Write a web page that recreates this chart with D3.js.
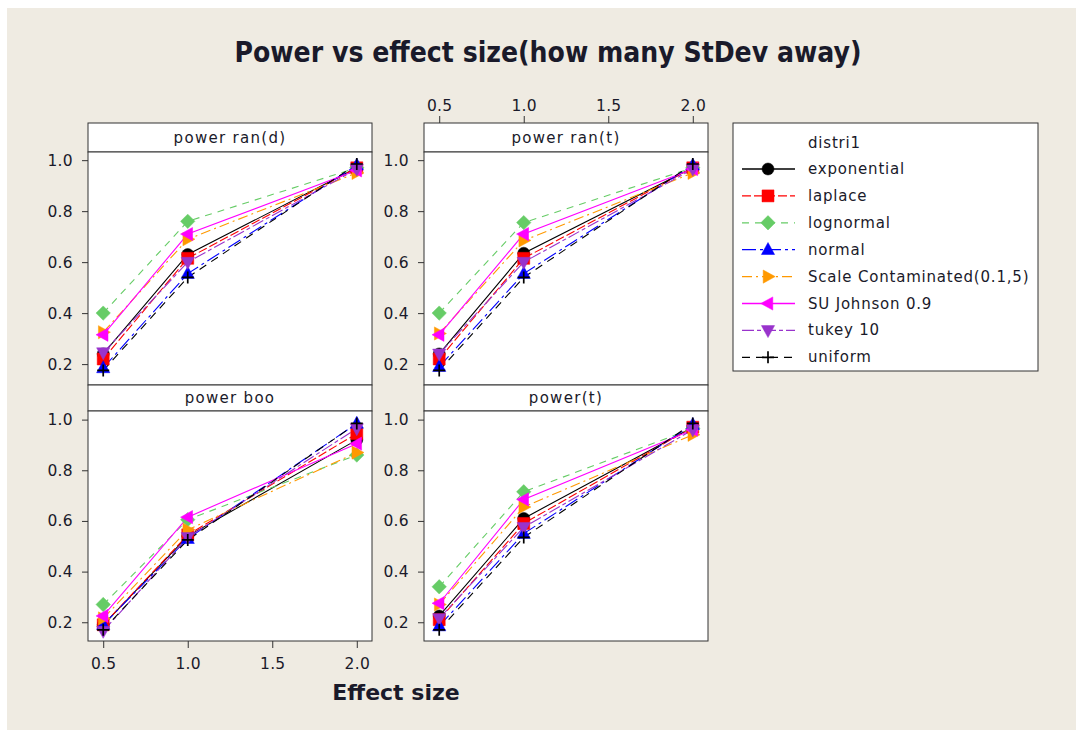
<!DOCTYPE html>
<html>
<head>
<meta charset="utf-8">
<script src="https://cdn.jsdelivr.net/npm/d3@7"></script>
<style>
  html, body { margin: 0; padding: 0; background: #fff; }
  text { font-family: "DejaVu Sans", sans-serif; fill: #1a1a2a; }
</style>
</head>
<body>
<svg id="chart" width="1083" height="736"></svg>
<script>
// effect sizes on the x axis
const effectSizes = [0.5, 1.0, 2.0];
const xTicks = [0.5, 1.0, 1.5, 2.0];
const yTicks = [0.2, 0.4, 0.6, 0.8, 1.0];

const seriesNames = ["exponential", "laplace", "lognormal", "normal",
  "Scale Contaminated(0.1,5)", "SU Johnson 0.9", "tukey 10", "uniform"];
const panelTitles = ["power ran(d)", "power ran(t)", "power boo", "power(t)"];

// one row per series (same order as seriesNames), values at 0.5, 1.0, 2.0
const powerRanD = [
  [0.24, 0.63, 0.97],
  [0.22, 0.615, 0.97],
  [0.40, 0.76, 0.97],
  [0.185, 0.555, 0.98],
  [0.325, 0.69, 0.95],
  [0.315, 0.71, 0.96],
  [0.245, 0.60, 0.965],
  [0.175, 0.54, 0.985]
];
const powerRanT = [
  [0.24, 0.635, 0.97],
  [0.22, 0.615, 0.97],
  [0.40, 0.755, 0.97],
  [0.19, 0.555, 0.98],
  [0.32, 0.685, 0.95],
  [0.315, 0.71, 0.965],
  [0.24, 0.60, 0.965],
  [0.175, 0.54, 0.985]
];
const powerBoo = [
  [0.19, 0.54, 0.92],
  [0.19, 0.545, 0.945],
  [0.27, 0.605, 0.86],
  [0.19, 0.53, 0.985],
  [0.215, 0.565, 0.87],
  [0.225, 0.615, 0.905],
  [0.165, 0.535, 0.965],
  [0.17, 0.525, 0.985]
];
const powerT = [
  [0.225, 0.61, 0.97],
  [0.21, 0.59, 0.97],
  [0.34, 0.715, 0.965],
  [0.185, 0.55, 0.98],
  [0.27, 0.655, 0.94],
  [0.275, 0.685, 0.96],
  [0.215, 0.575, 0.96],
  [0.17, 0.535, 0.985]
];
const panelData = [powerRanD, powerRanT, powerBoo, powerT];

const colors = ["#000000", "#ff0000", "#66cc66", "#0000ff", "#ff9900", "#ff00ff", "#9933cc", "#000000"];
const dashes = [null, "9,3", "7,6", "14,4,3,4", "10,4,2,4", null, "12,3,4,3", "8,6"];
const shapes = ["circle", "square", "diamond", "up", "right", "left", "down", "plus"];

const svg = d3.select("#chart");

// beige backdrop
svg.append("rect").attr("x", 7).attr("y", 8).attr("width", 1069).attr("height", 722)
  .attr("fill", "#efebe2");

// panel geometry
const cols = [[88, 372], [424, 708]];
const rows = [
  { strip: [123, 152], plot: [152, 385], dom: [0.118, 1.032] },
  { strip: [385, 411], plot: [411, 641], dom: [0.126, 1.034] }
];

function markerPath(shape, r) {
  switch (shape) {
    case "circle": return d3.symbol(d3.symbolCircle, Math.PI * r * r)();
    case "square": return `M${-r},${-r}H${r}V${r}H${-r}Z`;
    case "diamond": { const q = r * 1.2; return `M0,${-q}L${q},0L0,${q}L${-q},0Z`; }
    case "up": return `M0,${-r * 1.2}L${r * 1.1},${r * 0.8}L${-r * 1.1},${r * 0.8}Z`;
    case "down": return `M0,${r * 1.2}L${r * 1.1},${-r * 0.8}L${-r * 1.1},${-r * 0.8}Z`;
    case "right": return `M${r * 1.2},0L${-r * 0.8},${r * 1.1}L${-r * 0.8},${-r * 1.1}Z`;
    case "left": return `M${-r * 1.2},0L${r * 0.8},${r * 1.1}L${r * 0.8},${-r * 1.1}Z`;
    case "plus": return `M${-r},0H${r}M0,${-r}V${r}`;
  }
}

function drawMarker(g, shape, color, x, y, r) {
  g.append("path")
    .attr("d", markerPath(shape, r))
    .attr("transform", `translate(${x},${y})`)
    .attr("fill", shape === "plus" ? "none" : color)
    .attr("stroke", color)
    .attr("stroke-width", shape === "plus" ? 1.7 : 0.5);
}

panelData.forEach((data, p) => {
  const col = cols[p % 2], row = rows[Math.floor(p / 2)];
  const x = d3.scaleLinear().domain([0.41, 2.09]).range(col);
  const y = d3.scaleLinear().domain(row.dom).range([row.plot[1], row.plot[0]]);
  const g = svg.append("g");

  // strip
  g.append("rect").attr("x", col[0]).attr("y", row.strip[0])
    .attr("width", col[1] - col[0]).attr("height", row.strip[1] - row.strip[0])
    .attr("fill", "#fff").attr("stroke", "#333");
  g.append("text").attr("x", (col[0] + col[1]) / 2).attr("y", (row.strip[0] + row.strip[1]) / 2 + 5)
    .attr("text-anchor", "middle").attr("font-size", 15).attr("letter-spacing", 1.3)
    .text(panelTitles[p]);

  // plot area
  g.append("rect").attr("x", col[0]).attr("y", row.plot[0])
    .attr("width", col[1] - col[0]).attr("height", row.plot[1] - row.plot[0])
    .attr("fill", "#fff").attr("stroke", "#333");

  // y axis on every panel
  const ya = g.append("g").attr("transform", `translate(${col[0]},0)`)
    .call(d3.axisLeft(y).tickValues(yTicks).tickFormat(d3.format(".1f")).tickSize(6).tickPadding(9));
  ya.select(".domain").remove();
  ya.selectAll("line").attr("stroke", "#333");
  ya.selectAll("text").attr("font-size", 15.5).attr("letter-spacing", 0.3).attr("fill", "#1a1a2a");

  // x axis bottom-left and top-right only
  if (p === 2) {
    const xa = g.append("g").attr("transform", `translate(0,${row.plot[1]})`)
      .call(d3.axisBottom(x).tickValues(xTicks).tickFormat(d3.format(".1f")).tickSize(7).tickPadding(10));
    xa.select(".domain").remove();
    xa.selectAll("line").attr("stroke", "#333");
    xa.selectAll("text").attr("font-size", 15.5).attr("letter-spacing", 0.3).attr("fill", "#1a1a2a");
  }
  if (p === 1) {
    const xa = g.append("g").attr("transform", `translate(0,${row.strip[0]})`)
      .call(d3.axisTop(x).tickValues(xTicks).tickFormat(d3.format(".1f")).tickSize(7).tickPadding(5));
    xa.select(".domain").remove();
    xa.selectAll("line").attr("stroke", "#333");
    xa.selectAll("text").attr("font-size", 15.5).attr("letter-spacing", 0.3).attr("fill", "#1a1a2a");
  }

  const line = d3.line().x((d, i) => x(effectSizes[i])).y(d => y(d));
  data.forEach((vals, s) => {
    g.append("path").datum(vals).attr("d", line)
      .attr("fill", "none").attr("stroke", colors[s]).attr("stroke-width", 1.1)
      .attr("stroke-dasharray", dashes[s]);
  });
  data.forEach((vals, s) => {
    vals.forEach((v, i) => drawMarker(g, shapes[s], colors[s], x(effectSizes[i]), y(v), 6));
  });
});

// legend
const lg = svg.append("g");
lg.append("rect").attr("x", 733).attr("y", 123).attr("width", 305).attr("height", 248)
  .attr("fill", "#fff").attr("stroke", "#333");
lg.append("text").attr("x", 808).attr("y", 148).attr("font-size", 15).attr("letter-spacing", 0.8)
  .text("distri1");
seriesNames.forEach((name, s) => {
  const cy = 169 + s * 26.9;
  lg.append("line").attr("x1", 742).attr("x2", 795).attr("y1", cy).attr("y2", cy)
    .attr("stroke", colors[s]).attr("stroke-width", 1.3).attr("stroke-dasharray", dashes[s]);
  drawMarker(lg, shapes[s], colors[s], 768, cy, 6);
  lg.append("text").attr("x", 808).attr("y", cy + 5).attr("font-size", 15).attr("letter-spacing", 0.8)
    .text(name);
});

// titles
svg.append("text").attr("x", 548).attr("y", 62).attr("text-anchor", "middle")
  .attr("font-size", 29).attr("font-weight", "bold").attr("fill", "#000")
  .attr("textLength", 627).attr("lengthAdjust", "spacingAndGlyphs")
  .text("Power vs effect size(how many StDev away)");
svg.append("text").attr("x", 396).attr("y", 700).attr("text-anchor", "middle")
  .attr("font-size", 22).attr("font-weight", "bold").attr("fill", "#000")
  .text("Effect size");
</script>
</body>
</html>
